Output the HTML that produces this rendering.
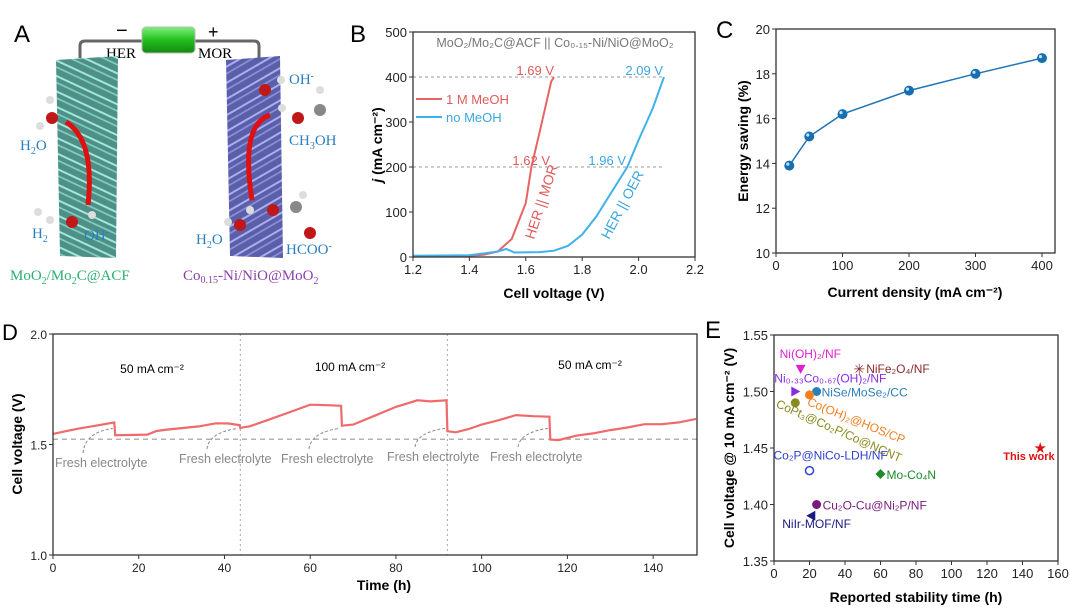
<!DOCTYPE html>
<html><head><meta charset="utf-8"><style>
html,body{margin:0;padding:0;background:#fff;}
svg{display:block;font-family:"Liberation Sans",sans-serif;}
</style></head><body>
<svg id="fig" width="1080" height="616" viewBox="0 0 1080 616" xmlns="http://www.w3.org/2000/svg">
<defs>
<pattern id="fibT" width="14" height="14" patternUnits="userSpaceOnUse" patternTransform="rotate(25)">
<rect width="14" height="14" fill="#4f8f86"/>
<line x1="0" y1="3" x2="14" y2="3" stroke="#9fe6dc" stroke-width="2"/>
<line x1="0" y1="9" x2="14" y2="9" stroke="#7fd3c6" stroke-width="1.6"/>
</pattern>
<pattern id="fibP" width="14" height="14" patternUnits="userSpaceOnUse" patternTransform="rotate(-30)">
<rect width="14" height="14" fill="#5a5fa8"/>
<line x1="0" y1="3" x2="14" y2="3" stroke="#a9aef0" stroke-width="2"/>
<line x1="0" y1="9" x2="14" y2="9" stroke="#8d92e0" stroke-width="1.6"/>
</pattern>
<linearGradient id="bat" x1="0" y1="0" x2="0" y2="1"><stop offset="0" stop-color="#7ef07a"/><stop offset="0.5" stop-color="#22c01e"/><stop offset="1" stop-color="#128a10"/></linearGradient>
</defs>

<!-- Panel A -->
<g>
<text x="14" y="42" font-size="24">A</text>
<path d="M80,58 V46 Q80,41 85,41 H254 Q259,41 259,46 V58" fill="none" stroke="#666" stroke-width="3"/>
<rect x="142" y="27" width="53" height="26" rx="4" fill="url(#bat)" stroke="#bbb"/>
<text x="116" y="37" font-size="20">−</text>
<text x="208" y="38" font-size="18">+</text>
<text x="106" y="58" font-family="Liberation Serif" font-size="15">HER</text>
<text x="198" y="58" font-family="Liberation Serif" font-size="15">MOR</text>
<path d="M56,60 L118,56 L116,258 L60,256 Z" fill="url(#fibT)"/>
<path d="M226,60 L280,56 L283,258 L230,256 Z" fill="url(#fibP)"/>
<path d="M66,122 Q95,140 88,205" fill="none" stroke="#e01010" stroke-width="5"/>
<path d="M270,115 Q240,125 252,200" fill="none" stroke="#e01010" stroke-width="5"/>
<g>
<circle cx="52" cy="118" r="6" fill="#c01818"/><circle cx="50" cy="100" r="4" fill="#ddd"/><circle cx="40" cy="126" r="4" fill="#ddd"/>
<circle cx="72" cy="222" r="6" fill="#c01818"/><circle cx="92" cy="215" r="4" fill="#ddd"/><circle cx="38" cy="212" r="4" fill="#ddd"/><circle cx="50" cy="220" r="4" fill="#ddd"/>
<circle cx="265" cy="90" r="6" fill="#c01818"/><circle cx="281" cy="80" r="4" fill="#ddd"/>
<circle cx="298" cy="118" r="6" fill="#c01818"/><circle cx="320" cy="110" r="6" fill="#888"/><circle cx="282" cy="108" r="4" fill="#ddd"/><circle cx="320" cy="90" r="4" fill="#ddd"/>
<circle cx="273" cy="210" r="6" fill="#c01818"/><circle cx="296" cy="207" r="6" fill="#888"/><circle cx="310" cy="233" r="6" fill="#c01818"/><circle cx="303" cy="195" r="4" fill="#ddd"/>
<circle cx="240" cy="225" r="6" fill="#c01818"/><circle cx="228" cy="222" r="4" fill="#ddd"/><circle cx="250" cy="210" r="4" fill="#ddd"/>
</g>
<g font-family="Liberation Serif" font-size="15" fill="#2a7fc0">
<text x="20" y="150">H<tspan font-size="10" dy="4">2</tspan><tspan dy="-4">O</tspan></text>
<text x="32" y="238">H<tspan font-size="10" dy="4">2</tspan></text>
<text x="84" y="240">OH<tspan font-size="10" dy="-5">-</tspan></text>
<text x="289" y="84">OH<tspan font-size="10" dy="-5">-</tspan></text>
<text x="289" y="145">CH<tspan font-size="10" dy="4">3</tspan><tspan dy="-4">OH</tspan></text>
<text x="196" y="244">H<tspan font-size="10" dy="4">2</tspan><tspan dy="-4">O</tspan></text>
<text x="286" y="254">HCOO<tspan font-size="10" dy="-5">-</tspan></text>
</g>
<text x="10" y="280" font-family="Liberation Serif" font-size="15" fill="#2ab070">MoO<tspan font-size="10" dy="4">2</tspan><tspan dy="-4">/Mo</tspan><tspan font-size="10" dy="4">2</tspan><tspan dy="-4">C@ACF</tspan></text>
<text x="183" y="280" font-family="Liberation Serif" font-size="15" fill="#8a3fa8">Co<tspan font-size="10" dy="3">0.15</tspan><tspan dy="-3">-Ni/NiO@MoO</tspan><tspan font-size="10" dy="4">2</tspan></text>
</g>

<g id="pB"></g>
<g id="pC"></g>
<g id="pD"></g>
<g id="pE"></g>
</svg>
<script>
// Panel B data
const bRedV=[1.2,1.4,1.45,1.5,1.55,1.6,1.62,1.65,1.69,1.70];
const bRedJ=[2,3,5,12,40,120,200,280,390,400];
const bBlueV=[1.2,1.4,1.5,1.53,1.56,1.65,1.7,1.75,1.8,1.85,1.9,1.96,2.0,2.05,2.09];
const bBlueJ=[3,4,12,18,10,11,14,25,50,90,140,200,260,330,400];
const bXTicks=[1.2,1.4,1.6,1.8,2.0,2.2];
const bYTicks=[0,100,200,300,400,500];
// Panel C data
const cX=[20,50,100,200,300,400];
const cY=[13.9,15.2,16.2,17.25,18.0,18.7];
const cXTicks=[0,100,200,300,400];
const cYTicks=[10,12,14,16,18,20];
// Panel D data
const dT=[0,3,6,10,14.3,14.5,18,22,24,26,30,34,38,41,43.5,43.7,46,50,55,60,64,67.2,67.4,70,75,80,85,88,91.8,92,94,97,100,104,108,112,115.8,116,118,122,126,130,134,138,142,146,150];
const dV=[1.548,1.56,1.572,1.585,1.60,1.542,1.543,1.545,1.56,1.566,1.574,1.582,1.596,1.595,1.588,1.575,1.583,1.61,1.645,1.68,1.678,1.675,1.585,1.59,1.63,1.67,1.70,1.695,1.70,1.56,1.555,1.57,1.59,1.61,1.633,1.628,1.626,1.522,1.52,1.54,1.55,1.565,1.577,1.592,1.592,1.6,1.616];
const dXTicks=[0,20,40,60,80,100,120,140];
const dYTicks=[1.0,1.5,2.0];
const dRefV=1.524;
const dSwitchT=[43.7,92];
const dFreshT=[14.4,43.6,67.3,91.9,115.9];
// Panel E data
const eNames=["Ni(OH)2/NF","NiFe2O4/NF","Ni0.33Co0.67(OH)2/NF","NiSe/MoSe2/CC","Co(OH)2@HOS/CP","CoPt3@Co2P/Co@NCNT","Co2P@NiCo-LDH/NF","Mo-Co4N","Cu2O-Cu@Ni2P/NF","NiIr-MOF/NF","This work"];
const eT=[15,48,12,24,20,12,20,60,24,21,150];
const eV=[1.52,1.52,1.50,1.50,1.497,1.49,1.43,1.427,1.40,1.39,1.45];
const eXTicks=[0,20,40,60,80,100,120,140,160];
const eYTicks=[1.35,1.40,1.45,1.50,1.55];

const NS="http://www.w3.org/2000/svg";
function mk(p,tag,a,txt){const e=document.createElementNS(NS,tag);for(const k in a)e.setAttribute(k,a[k]);if(txt!==undefined)e.textContent=txt;p.appendChild(e);return e;}
function frame(g,x0,y0,x1,y1){const r=mk(g,'rect',{x:x0,y:y0,width:x1-x0,height:y1-y0,fill:'none',stroke:'#333','stroke-width':1.3});

}
function xticks(g,ticks,xs,y,fmt,fs){ticks.forEach(v=>{mk(g,'line',{x1:xs(v),x2:xs(v),y1:y,y2:y+4,stroke:'#333'});
const t=mk(g,'text',{x:xs(v),y:y+17,'font-size':fs,'text-anchor':'middle',fill:'#222'},fmt(v));

});}
function yticks(g,ticks,ys,x,fmt,fs){ticks.forEach(v=>{mk(g,'line',{x1:x-4,x2:x,y1:ys(v),y2:ys(v),stroke:'#333'});
const t=mk(g,'text',{x:x-6,y:ys(v)+5,'font-size':fs,'text-anchor':'end',fill:'#222'},fmt(v));

});}
function poly(xs,ys,X,Y){return X.map((v,i)=>xs(v).toFixed(1)+','+ys(Y[i]).toFixed(1)).join(' ');}

// ---- B ----
(function(){const g=document.getElementById('pB');
const xs=v=>413+(v-1.2)*282, ys=j=>257-j*0.45;
mk(g,'text',{x:350,y:42,'font-size':24},'B');
[200,400].forEach(j=>mk(g,'line',{x1:xs(1.2),x2:xs(2.09),y1:ys(j),y2:ys(j),stroke:'#999','stroke-dasharray':'3,3'}));
const r=mk(g,'polyline',{points:poly(xs,ys,bRedV,bRedJ),fill:'none',stroke:'#e86464','stroke-width':2});


const b=mk(g,'polyline',{points:poly(xs,ys,bBlueV,bBlueJ),fill:'none',stroke:'#3fb2ea','stroke-width':2});


frame(g,413,32,695,257);
xticks(g,bXTicks,xs,257,v=>v.toFixed(1),13);
yticks(g,bYTicks,ys,413,v=>v,13);
mk(g,'text',{x:555,y:47,'font-size':12.5,'text-anchor':'middle',fill:'#777'},'MoO₂/Mo₂C@ACF || Co₀.₁₅-Ni/NiO@MoO₂');
mk(g,'text',{x:554,y:75,'font-size':13,'text-anchor':'end',fill:'#e05a5a'},'1.69 V');
mk(g,'text',{x:550,y:165,'font-size':13,'text-anchor':'end',fill:'#e05a5a'},'1.62 V');
mk(g,'text',{x:663,y:75,'font-size':13,'text-anchor':'end',fill:'#3aa6e0'},'2.09 V');
mk(g,'text',{x:626,y:165,'font-size':13,'text-anchor':'end',fill:'#3aa6e0'},'1.96 V');
mk(g,'line',{x1:416,x2:442,y1:99,y2:99,stroke:'#e86464','stroke-width':2});
mk(g,'text',{x:446,y:104,'font-size':13,fill:'#e05a5a'},'1 M MeOH');
mk(g,'line',{x1:416,x2:442,y1:117,y2:117,stroke:'#3fb2ea','stroke-width':2});
mk(g,'text',{x:446,y:122,'font-size':13,fill:'#3aa6e0'},'no MeOH');
mk(g,'text',{x:0,y:0,'font-size':14,fill:'#e05a5a',transform:'translate(534,240) rotate(-72)'},'HER || MOR');
mk(g,'text',{x:0,y:0,'font-size':14,fill:'#3aa6e0',transform:'translate(609,240) rotate(-62)'},'HER || OER');
const yt=mk(g,'text',{x:0,y:0,'font-size':14,'font-weight':'bold','text-anchor':'middle',transform:'translate(382,145) rotate(-90)'});
mk(yt,'tspan',{'font-style':'italic'},'j');
mk(yt,'tspan',{},' (mA cm⁻²)');
mk(g,'text',{x:554,y:298,'font-size':14,'font-weight':'bold','text-anchor':'middle'},'Cell voltage (V)');
})();

// ---- C ----
(function(){const g=document.getElementById('pC');
const xs=v=>776+v*0.665, ys=v=>253-(v-10)*22.4;
mk(g,'text',{x:716,y:38,'font-size':24},'C');
frame(g,776,29,1055,253);
xticks(g,cXTicks,xs,253,v=>v,13);
yticks(g,cYTicks,ys,776,v=>v,13);
const l=mk(g,'polyline',{points:poly(xs,ys,cX,cY),fill:'none',stroke:'#1f74b4','stroke-width':1.5});


cX.forEach((x,i)=>{const c=mk(g,'circle',{cx:xs(x),cy:ys(cY[i]),r:5,fill:'#1670b0'});


mk(g,'circle',{cx:xs(x)-1.5,cy:ys(cY[i])-1.5,r:1.6,fill:'#bfe0f8'});});
mk(g,'text',{x:0,y:0,'font-size':14,'font-weight':'bold','text-anchor':'middle',transform:'translate(748,141) rotate(-90)'},'Energy saving (%)');
mk(g,'text',{x:915,y:297,'font-size':14,'font-weight':'bold','text-anchor':'middle'},'Current density (mA cm⁻²)');
})();

// ---- D ----
(function(){const g=document.getElementById('pD');
const xs=t=>53+t*(643/150), ys=v=>555-(v-1)*221;
mk(g,'text',{x:2,y:340,'font-size':22},'D');
dSwitchT.forEach(t=>mk(g,'line',{x1:xs(t),x2:xs(t),y1:334,y2:555,stroke:'#aaa','stroke-dasharray':'2,3'}));
mk(g,'line',{x1:53,x2:697,y1:ys(dRefV),y2:ys(dRefV),stroke:'#999','stroke-dasharray':'5,4','stroke-width':1.2});
const l=mk(g,'polyline',{points:poly(xs,ys,dT,dV),fill:'none',stroke:'#ef6b6b','stroke-width':2.2});


frame(g,53,334,697,555);
xticks(g,dXTicks,xs,555,v=>v,12);
yticks(g,dYTicks,ys,53,v=>v.toFixed(1),12);
const tx=[55,179,281,387,490], ty=[467,463,463,461,461];
dFreshT.forEach((t,i)=>{
const ax=xs(t)-2, ay=ys(1.6);
mk(g,'path',{d:`M${tx[i]+28},${ty[i]-14} Q${tx[i]+30},${ay+10} ${ax},${ay+6}`,fill:'none',stroke:'#888','stroke-dasharray':'3,2'});
const t2=mk(g,'text',{x:tx[i],y:ty[i],'font-size':12.5,fill:'#888'},'Fresh electrolyte');

});
mk(g,'text',{x:152,y:373,'font-size':12,'text-anchor':'middle'},'50 mA cm⁻²');
mk(g,'text',{x:350,y:371,'font-size':12,'text-anchor':'middle'},'100 mA cm⁻²');
mk(g,'text',{x:590,y:369,'font-size':12,'text-anchor':'middle'},'50 mA cm⁻²');
mk(g,'text',{x:0,y:0,'font-size':14,'font-weight':'bold','text-anchor':'middle',transform:'translate(22,444) rotate(-90)'},'Cell voltage (V)');
mk(g,'text',{x:384,y:590,'font-size':14,'font-weight':'bold','text-anchor':'middle'},'Time (h)');
})();

// ---- E ----
(function(){const g=document.getElementById('pE');
const xs=t=>774+t*1.775, ys=v=>561-(v-1.35)*1130;
mk(g,'text',{x:705,y:338,'font-size':24},'E');
frame(g,774,335,1058,561);
xticks(g,eXTicks,xs,561,v=>v,13);
yticks(g,eYTicks,ys,774,v=>v.toFixed(2),13);
const cols=['#e020d0','#8b2a2a','#8a2be2','#2a7fb8','#f08020','#8a8a20','#3040d0','#1e8a2a','#7a1a7a','#1a1a80','#e01010'];
const lx=[-21,7,-21,5,-3,-20,-36,6,6,-29,-37], ly=[-11,4,-9,5,10,4,-11,5,5,12,12];
const labels=['Ni(OH)₂/NF','NiFe₂O₄/NF','Ni₀.₃₃Co₀.₆₇(OH)₂/NF','NiSe/MoSe₂/CC','Co(OH)₂@HOS/CP','CoPt₃@Co₂P/Co@NCNT','Co₂P@NiCo-LDH/NF','Mo-Co₄N','Cu₂O-Cu@Ni₂P/NF','NiIr-MOF/NF','This work'];
const rot=[0,0,0,0,22,24,0,0,0,0,0];
eT.forEach((t,i)=>{const x=xs(t),y=ys(eV[i]),c=cols[i];let m;
if(i===0)m=mk(g,'path',{d:`M${x-5},${y-4} L${x+5},${y-4} L${x},${y+5}Z`,fill:c});
else if(i===1)m=mk(g,'text',{x:x,y:y+5,'font-size':14,'text-anchor':'middle',fill:c},'✳');
else if(i===2)m=mk(g,'path',{d:`M${x-4},${y-5} L${x+5},${y} L${x-4},${y+5}Z`,fill:c});
else if(i===6)m=mk(g,'circle',{cx:x,cy:y,r:4,fill:'none',stroke:c,'stroke-width':1.5});
else if(i===7)m=mk(g,'path',{d:`M${x},${y-5} L${x+5},${y} L${x},${y+5} L${x-5},${y}Z`,fill:c});
else if(i===9)m=mk(g,'path',{d:`M${x+4},${y-5} L${x-5},${y} L${x+4},${y+5}Z`,fill:c});
else if(i===10)m=mk(g,'text',{x:x,y:y+5,'font-size':15,'text-anchor':'middle',fill:c},'★');
else m=mk(g,'circle',{cx:x,cy:y,r:4.5,fill:c});


const lab=mk(g,'text',{x:x+lx[i],y:y+ly[i],'font-size':i===10?11:12,fill:c,'font-weight':i===10?'bold':'normal',transform:rot[i]?`rotate(${rot[i]} ${x+lx[i]} ${y+ly[i]})`:''},labels[i]);

});
mk(g,'text',{x:0,y:0,'font-size':14,'font-weight':'bold','text-anchor':'middle',transform:'translate(734,448) rotate(-90)'},'Cell voltage @ 10 mA cm⁻² (V)');
mk(g,'text',{x:916,y:602,'font-size':14,'font-weight':'bold','text-anchor':'middle'},'Reported stability time (h)');
})();
</script>
</body></html>
